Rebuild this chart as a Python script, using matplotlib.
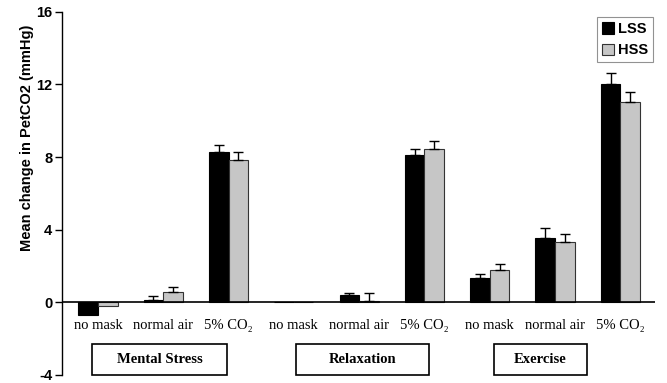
import numpy as np
import matplotlib
matplotlib.use("Agg")
from matplotlib import pyplot as plt
from matplotlib.patches import Rectangle

# mean change in PetCO2 (mmHg), LSS vs HSS, per condition
conditions = ['no mask', 'normal air', '5% CO₂'] * 3
groups = ['Mental Stress', 'Relaxation', 'Exercise']
lss = [-0.7, 0.15, 8.3, 0.0, 0.38, 8.1, 1.32, 3.55, 12.05]
lss_err = [0.0, 0.2, 0.37, 0.0, 0.15, 0.37, 0.25, 0.55, 0.6]
hss = [-0.2, 0.55, 7.84, 0.0, 0.07, 8.47, 1.77, 3.33, 11.05]
hss_err = [0.0, 0.28, 0.45, 0.0, 0.43, 0.4, 0.33, 0.42, 0.55]

serif = ['Liberation Serif', 'DejaVu Serif']
sans = 'Liberation Sans'

fig = plt.figure(figsize=(6.67, 3.83), dpi=100)
ax = fig.add_axes([0.093, 0.021, 0.889, 0.948])

x = np.arange(len(conditions))
w = 0.3
ax.bar(x - w / 2, lss, w, color='black', edgecolor='black', linewidth=0.8, label='LSS', zorder=2)
ax.bar(x + w / 2, hss, w, color='#c6c6c6', edgecolor='#333333', linewidth=0.8,
       label='HSS', zorder=2)

# upward-only error bars
for off, vals, errs in [(-w / 2, lss, lss_err), (w / 2, hss, hss_err)]:
    for xi, v, e in zip(x + off, vals, errs):
        if e > 0:
            ax.errorbar(xi, v, yerr=[[0], [e]], fmt='none', ecolor='black',
                        elinewidth=1, capsize=3.5, capthick=1, zorder=3)

ax.axhline(0, color='black', linewidth=1.2, zorder=4)

ax.set_xlim(-0.55, 8.53)
ax.set_ylim(-4, 16)
ax.set_yticks([-4, 0, 4, 8, 12, 16])
ax.set_yticklabels(['-4', '0', '4', '8', '12', '16'], fontfamily=sans,
                   fontweight='bold', fontsize=10.5)
ax.tick_params(axis='y', direction='out', length=5, width=1, pad=2)
ax.set_xticks([])
for s in ['top', 'right', 'bottom']:
    ax.spines[s].set_visible(False)
ax.spines['left'].set_linewidth(1)
ax.set_ylabel('Mean change in PetCO2 (mmHg)', fontfamily=sans, fontweight='bold',
              fontsize=10.5)
ax.yaxis.set_label_coords(-0.047, 0.653)

# condition labels under the zero line
for xi, name in zip(x, conditions):
    ax.text(xi, -1.27, name, ha='center', va='center', fontsize=10.5,
            family=serif, clip_on=False)

# boxed group names
boxes = [(-0.09, 1.98), (3.03, 5.07), (6.06, 7.49)]
for (x0, x1), g in zip(boxes, groups):
    ax.add_patch(Rectangle((x0, -3.98), x1 - x0, 1.66, fill=False,
                           edgecolor='black', linewidth=1.2, clip_on=False))
    ax.text((x0 + x1) / 2, -3.15, g, ha='center', va='center', fontsize=10.5,
            fontweight='bold', family=serif, clip_on=False)

leg = ax.legend(loc='upper right', bbox_to_anchor=(0.997, 0.986), borderaxespad=0,
                frameon=True, fancybox=False, handlelength=0.8, handleheight=0.8,
                handletextpad=0.3, borderpad=0.35, labelspacing=0.5,
                prop={'family': sans, 'weight': 'bold', 'size': 10.5})
leg.get_frame().set_edgecolor('#777777')
leg.get_frame().set_linewidth(0.8)

fig.savefig('out.png', dpi=100)
